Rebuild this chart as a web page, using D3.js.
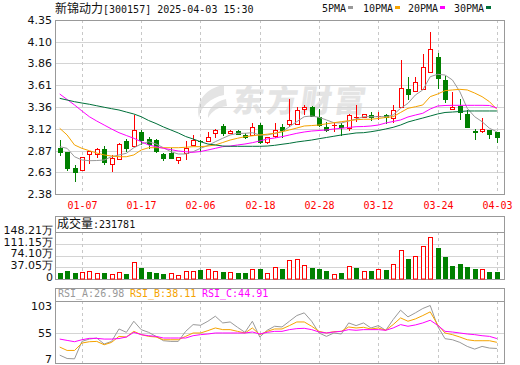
<!DOCTYPE html>
<html>
<head>
<meta charset="utf-8">
<script src="https://cdn.jsdelivr.net/npm/d3@7"></script>
<style>
  body { margin: 0; background: #fff; }
</style>
</head>
<body>
<div id="chart"></div>
<script>
var dates = ["01-02","01-03","01-06","01-07","01-08","01-09","01-10","01-13","01-14","01-15",
  "01-16","01-17","01-20","01-21","01-22","01-23","01-24","01-27","02-05","02-06",
  "02-07","02-10","02-11","02-12","02-13","02-14","02-17","02-18","02-19","02-20",
  "02-21","02-24","02-25","02-26","02-27","02-28","03-03","03-04","03-05","03-06",
  "03-07","03-10","03-11","03-12","03-13","03-14","03-17","03-18","03-19","03-20",
  "03-21","03-24","03-25","03-26","03-27","03-28","03-31","04-01","04-02","04-03"];

var opens = [2.90,2.85,2.67,2.65,2.83,2.83,2.89,2.72,2.78,2.98,
  2.92,3.08,3.00,2.99,2.83,2.84,2.765,2.84,2.93,2.983,
  2.98,3.07,3.15,3.07,3.09,3.05,3.05,3.16,2.97,3.04,
  3.14,3.17,3.17,3.34,3.37,3.25,3.14,3.158,3.158,3.13,
  3.248,3.255,3.274,3.26,3.274,3.24,3.37,3.565,3.55,3.57,
  3.765,3.93,3.67,3.342,3.38,3.286,3.093,3.093,3.105,3.08];
var highs = [2.99,2.86,2.71,2.80,2.87,2.90,2.92,2.82,2.96,3.00,
  3.27,3.10,3.03,3.00,2.84,2.90,2.80,2.98,3.05,2.99,
  3.08,3.12,3.17,3.11,3.11,3.07,3.18,3.18,3.02,3.18,
  3.17,3.46,3.37,3.39,3.38,3.34,3.20,3.18,3.18,3.29,
  3.39,3.29,3.31,3.31,3.29,3.39,3.90,3.71,3.71,3.97,
  4.21,3.98,3.72,3.54,3.46,3.33,3.116,3.237,3.105,3.08];
var lows = [2.82,2.65,2.53,2.65,2.73,2.80,2.72,2.64,2.78,2.87,
  2.92,2.95,2.90,2.85,2.76,2.79,2.735,2.78,2.93,2.87,
  2.98,3.03,3.05,3.07,3.055,3.015,3.045,2.96,2.96,3.03,
  3.02,3.15,3.17,3.29,3.26,3.15,3.09,3.09,3.05,3.10,
  3.21,3.25,3.22,3.23,3.18,3.20,3.37,3.46,3.55,3.57,
  3.765,3.58,3.42,3.342,3.23,3.14,3.00,3.085,3.017,2.97];
var closes = [2.85,2.68,2.63,2.80,2.87,2.89,2.74,2.79,2.95,2.90,
  3.11,2.99,2.95,2.87,2.79,2.79,2.795,2.90,2.99,2.977,
  3.03,3.11,3.07,3.09,3.06,3.02,3.14,2.97,3.02,3.11,
  3.10,3.22,3.33,3.37,3.26,3.16,3.11,3.161,3.142,3.27,
  3.255,3.286,3.255,3.263,3.255,3.33,3.58,3.51,3.645,3.82,
  4.02,3.69,3.45,3.365,3.305,3.142,3.085,3.113,3.056,3.022];

// volume, in 万
var volumes = [20,25,20,22,25,19,19,16,22,17,
  52.5,35,22,20,17,19,12.6,24,24,28,
  31.5,24,23,22,20,20,30.5,32.6,19,37.8,
  32.6,58.9,63,43,34.7,32.6,25,15.8,20,41,
  34.7,24,25,31.5,28.4,46,90.4,64,71.5,103,
  131.4,98.8,69.4,41,47.3,37.8,31.5,30.5,22,23.18];

var ma5 = [2.916,2.897,2.802,2.765,2.757,2.759,2.765,2.802,2.822,2.841,
  2.904,2.946,2.972,2.946,2.904,2.859,2.833,2.833,2.859,2.897,
  2.929,2.972,3.011,3.048,3.067,3.067,3.074,3.048,3.048,3.067,
  3.085,3.142,3.199,3.255,3.263,3.248,3.218,3.187,3.184,3.206,
  3.229,3.255,3.255,3.255,3.255,3.274,3.350,3.407,3.501,3.558,
  3.708,3.735,3.727,3.671,3.538,3.350,3.255,3.199,3.124,3.084];
var ma10 = [3.124,3.048,2.935,2.897,2.870,2.844,2.822,2.810,2.802,2.802,
  2.822,2.878,2.904,2.904,2.904,2.904,2.904,2.909,2.916,2.916,
  2.923,2.935,2.963,2.991,3.011,3.029,3.039,3.048,3.057,3.067,
  3.085,3.105,3.127,3.150,3.155,3.161,3.175,3.187,3.199,3.210,
  3.221,3.226,3.226,3.235,3.246,3.255,3.303,3.350,3.368,3.388,
  3.482,3.512,3.550,3.558,3.565,3.558,3.523,3.482,3.425,3.339];
var ma20 = [3.512,3.450,3.388,3.320,3.255,3.206,3.161,3.116,3.074,3.042,
  3.011,2.972,2.935,2.916,2.897,2.882,2.867,2.859,2.852,2.861,
  2.878,2.897,2.916,2.923,2.935,2.946,2.961,2.980,3.003,3.014,
  3.029,3.048,3.067,3.082,3.093,3.099,3.105,3.116,3.124,3.133,
  3.142,3.144,3.150,3.161,3.184,3.201,3.218,3.252,3.274,3.294,
  3.342,3.376,3.382,3.384,3.384,3.384,3.384,3.384,3.382,3.354];
var ma30 = [3.463,3.444,3.425,3.410,3.396,3.379,3.362,3.346,3.331,3.308,
  3.286,3.255,3.212,3.178,3.139,3.105,3.071,3.031,3.003,2.972,
  2.946,2.935,2.923,2.920,2.920,2.920,2.920,2.920,2.923,2.931,
  2.943,2.954,2.969,2.980,2.991,3.006,3.020,3.034,3.048,3.059,
  3.071,3.074,3.085,3.099,3.116,3.135,3.161,3.195,3.218,3.240,
  3.263,3.286,3.303,3.308,3.314,3.320,3.320,3.320,3.320,3.320];

var rsiA = [14.9,8.8,8.2,39.8,44,45.9,35,39.8,62.3,56.2,
  76.3,61,56.2,48.9,41,39.8,39.8,58,70.2,69,
  76.3,85.4,73.2,75,65.3,56.2,76.3,47.7,59.9,67.2,
  65.9,76.3,86.6,91.5,76.3,55,48.9,55,53.2,73.2,
  68.4,73.2,64.1,68.4,59.9,79.3,96.3,84.2,91.5,99.4,
  104.8,67.2,44.7,42.8,38,30.7,25.8,30.7,27.7,26.98];
var rsiB = [29.5,23.4,23.4,36.8,39.2,39.8,33.7,38,48.9,47.7,
  58,52,48.9,47.7,42.8,42.8,42.8,48.9,55,55,
  59.3,64.1,61.1,61.1,58,55,64.1,52,58,62.3,
  62.3,68.4,75,75,67.2,58,55,57.4,58,65.9,
  64.1,65.3,62.3,64.1,59.9,70.2,82.3,76.3,80.5,86.6,
  93.3,70.2,55,52,47.7,42.8,41,41,41,38.11];
var rsiC = [44,41.6,39.2,42.8,45.3,45.3,44,44,45,47.7,
  56.2,52,50.1,48.9,45.9,45.9,45.9,45.9,50.1,52,
  53.2,55,55,55,55,55,56.8,53.2,56.2,58,
  58,61.1,62.9,63.5,61.1,56.8,55,56.8,58,61.1,
  59.9,61.1,61.1,61.1,59.9,64.1,70.2,67.2,69.6,73.2,
  78.1,69,58,56.8,55,53.2,52,50.1,48.9,44.91];

var priceTicks = [4.35, 4.10, 3.86, 3.61, 3.36, 3.12, 2.87, 2.63, 2.38];
var volTicks = [148.21, 111.15, 74.10, 37.05, 0];
var volTickLabels = ["148.21万", "111.15万", "74.10万", "37.05万", "0"];
var rsiTicks = [103, 55, 7];
var dateTicks = ["01-07","01-17","02-06","02-18","02-28","03-12","03-24","04-03"];

var maNames = ["5PMA", "10PMA", "20PMA", "30PMA"];
var maColors = ["#999999", "#f5a300", "#ff00ff", "#00703a"];
var up = "#ff0000", down = "#008000";
var mono = "'DejaVu Sans Mono', monospace";
var cjk = "'Noto Sans CJK SC', sans-serif";
var axisFont = "'DejaVu Sans', sans-serif";

var svg = d3.select("#chart").append("svg")
  .attr("width", 520)
  .attr("height", 365);

var L = 55, R = 505;
var main = {top: 20, bottom: 194};
var vol = {top: 216, head: 232, bottom: 279};
var rsi = {top: 288, head: 301, bottom: 363};

var x = d3.scaleBand().domain(dates).range([56, 500.6]);
function cx(d) { return Math.round(x(d) + x.bandwidth() / 2) + 0.5; }
function xr(d) { return x(d) + x.bandwidth() / 2; }
var y = d3.scaleLinear().domain([2.38, 4.35]).range([194, 20]);
var yv = d3.scaleLinear().domain([0, 148.21]).range([279, 232]);
var yr = d3.scaleLinear().domain([7, 103]).range([359.5, 306.5]);
function snap(v) { return Math.round(v) + 0.5; }

var data = dates.map(function(d, i) {
  return {date: d, open: opens[i], high: highs[i], low: lows[i], close: closes[i],
    vol: volumes[i], volUp: i === 0 ? closes[i] >= opens[i] : closes[i] >= closes[i - 1]};
});

// watermark
var wm = svg.append("g").attr("fill", "#e4e4e4");
wm.append("path")
  .attr("d", "M224,85 C206,88 195,101 199,118 C201,106 210,98 224,95 Z M226,99 C214,102 207,110 208,118 C212,111 218,107 227,106 Z");
wm.append("text")
  .attr("x", 232).attr("y", 112)
  .attr("font-family", cjk).attr("font-weight", 900).attr("font-size", 31)
  .attr("letter-spacing", 3)
  .attr("transform", "skewX(-8) translate(15,0)")
  .text("东方财富");

// grid lines
svg.append("g").selectAll("line")
  .data(priceTicks.slice(1, -1))
  .enter().append("line")
  .attr("x1", L).attr("x2", R)
  .attr("y1", d => snap(y(d))).attr("y2", d => snap(y(d)))
  .attr("stroke", "#d4d4d4");

svg.append("g").selectAll("line")
  .data(volTicks.slice(1, -1))
  .enter().append("line")
  .attr("x1", L).attr("x2", R)
  .attr("y1", d => snap(yv(d))).attr("y2", d => snap(yv(d)))
  .attr("stroke", "#d4d4d4");

svg.append("line")
  .attr("x1", L).attr("x2", R)
  .attr("y1", snap(yr(55))).attr("y2", snap(yr(55)))
  .attr("stroke", "#d4d4d4");

[[main.top, main.bottom], [vol.head, vol.bottom], [rsi.head, rsi.bottom]].forEach(function(p) {
  svg.append("g").selectAll("line")
    .data(dateTicks)
    .enter().append("line")
    .attr("x1", d => cx(d)).attr("x2", d => cx(d))
    .attr("y1", p[0]).attr("y2", p[1])
    .attr("stroke", "#c8c8c8")
    .attr("stroke-dasharray", "3,3");
});

// frames
[[main.top, main.bottom], [vol.top, vol.bottom], [rsi.top, rsi.bottom]].forEach(function(p) {
  svg.append("rect")
    .attr("x", L + 0.5).attr("y", p[0] + 0.5)
    .attr("width", R - L - 1).attr("height", p[1] - p[0])
    .attr("fill", "none").attr("stroke", "#999");
});
svg.append("line").attr("x1", L).attr("x2", R)
  .attr("y1", vol.head + 0.5).attr("y2", vol.head + 0.5).attr("stroke", "#999");
svg.append("line").attr("x1", L).attr("x2", R)
  .attr("y1", rsi.head + 0.5).attr("y2", rsi.head + 0.5).attr("stroke", "#999");

// candles
var candles = svg.append("g").selectAll("g")
  .data(data)
  .enter().append("g");

candles.each(function(d) {
  var g = d3.select(this);
  var c = cx(d.date);
  var yt = Math.round(y(Math.max(d.open, d.close)));
  var yb = Math.round(y(Math.min(d.open, d.close)));
  var yh = Math.round(y(d.high)), yl = Math.round(y(d.low));
  var isUp = d.close >= d.open;
  var col = isUp ? up : down;
  if (yb - yt < 1) {
    g.append("line").attr("x1", c).attr("x2", c).attr("y1", yh).attr("y2", yl + 1).attr("stroke", col);
    g.append("line").attr("x1", c - 2.5).attr("x2", c + 2.5).attr("y1", yt + 0.5).attr("y2", yt + 0.5).attr("stroke", col);
    return;
  }
  if (isUp) {
    if (yh < yt) g.append("line").attr("x1", c).attr("x2", c).attr("y1", yh).attr("y2", yt).attr("stroke", col);
    if (yl > yb) g.append("line").attr("x1", c).attr("x2", c).attr("y1", yb).attr("y2", yl + 1).attr("stroke", col);
    g.append("rect").attr("x", c - 2).attr("y", yt + 0.5)
      .attr("width", 4).attr("height", yb - yt)
      .attr("fill", "#fff").attr("stroke", col);
  } else {
    g.append("line").attr("x1", c).attr("x2", c).attr("y1", yh).attr("y2", yl + 1).attr("stroke", col);
    g.append("rect").attr("x", c - 2.5).attr("y", yt)
      .attr("width", 5).attr("height", yb - yt + 1)
      .attr("fill", col);
  }
});

// moving averages
[ma5, ma10, ma20, ma30].forEach(function(series, k) {
  var line = d3.line()
    .x((v, i) => xr(dates[i]))
    .y(v => y(v));
  svg.append("path")
    .datum(series)
    .attr("d", line)
    .attr("fill", "none")
    .attr("stroke", maColors[k])
    .attr("stroke-width", 1);
});

// volume bars
svg.append("g").selectAll("rect")
  .data(data)
  .enter().append("rect")
  .attr("x", d => d.volUp ? cx(d.date) - 2 : cx(d.date) - 2.5)
  .attr("y", d => d.volUp ? Math.round(yv(d.vol)) + 0.5 : Math.round(yv(d.vol)))
  .attr("width", d => d.volUp ? 4 : 5)
  .attr("height", d => d.volUp ? 279 - Math.round(yv(d.vol)) - 0.5 : 279 - Math.round(yv(d.vol)))
  .attr("fill", d => d.volUp ? "#fff" : down)
  .attr("stroke", d => d.volUp ? up : "none");

// RSI lines
[rsiA, rsiB, rsiC].forEach(function(series, k) {
  var line = d3.line()
    .x((v, i) => xr(dates[i]))
    .y(v => yr(v));
  svg.append("path")
    .datum(series)
    .attr("d", line)
    .attr("fill", "none")
    .attr("stroke", ["#999999", "#f5a300", "#ff00ff"][k])
    .attr("stroke-width", 1);
});

// axis labels
svg.append("g").selectAll("text")
  .data(priceTicks)
  .enter().append("text")
  .attr("x", 52).attr("y", d => y(d))
  .attr("dy", "0.36em")
  .attr("text-anchor", "end")
  .attr("font-family", axisFont).attr("font-size", 11)
  .attr("fill", "#111")
  .text(d => d.toFixed(2));

svg.append("g").selectAll("text")
  .data(volTicks)
  .enter().append("text")
  .attr("x", 53).attr("y", d => yv(d) - 2)
  .attr("dy", "0.36em")
  .attr("text-anchor", "end")
  .attr("font-family", axisFont).attr("font-size", 11)
  .attr("fill", "#111")
  .text((d, i) => volTickLabels[i]);

svg.append("g").selectAll("text")
  .data(rsiTicks)
  .enter().append("text")
  .attr("x", 52).attr("y", d => yr(d))
  .attr("dy", "0.36em")
  .attr("text-anchor", "end")
  .attr("font-family", axisFont).attr("font-size", 11)
  .attr("fill", "#111")
  .text(d => d);

svg.append("g").selectAll("text")
  .data(dateTicks)
  .enter().append("text")
  .attr("x", d => cx(d)).attr("y", 209)
  .attr("text-anchor", "middle")
  .attr("font-family", mono).attr("font-size", 10)
  .attr("fill", "#ff0000")
  .text(d => d);

// title
var title = svg.append("text").attr("x", 55).attr("y", 13).attr("fill", "#111");
title.append("tspan").attr("font-family", cjk).attr("font-size", 12).text("新锦动力");
title.append("tspan").attr("font-family", mono).attr("font-size", 10).text("[300157] 2025-04-03 15:30");

// legend
var legX = [322, 363, 408, 454];
maNames.forEach(function(n, k) {
  svg.append("text").attr("x", legX[k]).attr("y", 12)
    .attr("font-family", mono).attr("font-size", 10).attr("fill", "#111")
    .text(n);
  svg.append("rect").attr("x", legX[k] + n.length * 6 + 2).attr("y", 6)
    .attr("width", 5).attr("height", 3).attr("fill", maColors[k]);
});

// volume header
var vh = svg.append("text").attr("x", 57).attr("y", 228).attr("fill", "#111");
vh.append("tspan").attr("font-family", cjk).attr("font-size", 12).text("成交量");
vh.append("tspan").attr("font-family", mono).attr("font-size", 10).text(":231781");

// RSI header
var rsiLabels = ["RSI_A:26.98", "RSI_B:38.11", "RSI_C:44.91"];
var rsiColors = ["#999999", "#f5a300", "#ff00ff"];
rsiLabels.forEach(function(t, k) {
  svg.append("text").attr("x", 58 + k * 72).attr("y", 297)
    .attr("font-family", mono).attr("font-size", 10).attr("fill", rsiColors[k])
    .text(t);
});
</script>
</body>
</html>
